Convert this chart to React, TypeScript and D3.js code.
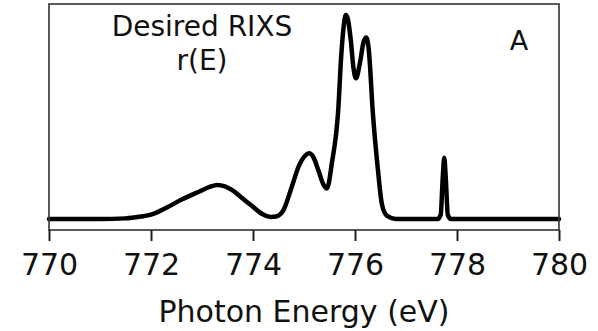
import React, { useRef, useEffect } from 'react';
import * as d3 from 'd3';

// photon energy (eV) and normalised r(E)
const energy = [
  770, 771, 771.5, 771.8, 772.0, 772.3, 772.6, 772.95, 773.15, 773.3, 773.45, 773.6, 773.8,
  773.95, 774.2, 774.35, 774.45, 774.6, 774.75, 774.9, 775.02, 775.1, 775.18, 775.28, 775.38,
  775.45, 775.55, 775.67, 775.73, 775.78, 775.82, 775.86, 775.92, 775.97, 776.02, 776.1,
  776.17, 776.22, 776.27, 776.35, 776.45, 776.53, 776.63, 776.8,
  777.62, 777.68, 777.72, 777.75, 777.78, 777.82, 777.88, 778.5, 780,
];
const intensity = [
  0, 0, 0.003, 0.012, 0.021, 0.055, 0.095, 0.135, 0.157, 0.167, 0.16, 0.14, 0.1,
  0.07, 0.022, 0.01, 0.012, 0.045, 0.15, 0.26, 0.31, 0.322, 0.305, 0.24, 0.17,
  0.15, 0.28, 0.53, 0.8, 0.95, 1.0, 0.98, 0.87, 0.74, 0.69, 0.77,
  0.87, 0.89, 0.83, 0.52, 0.24, 0.07, 0.015, 0,
  0, 0.02, 0.2, 0.3, 0.2, 0.02, 0, 0, 0,
];
const xTicks = [770, 772, 774, 776, 778, 780];
const xLabel = 'Photon Energy (eV)';
const titleLines = ['Desired RIXS', 'r(E)'];
const panelTag = 'A';

const W = 598;
const H = 331;
const margin = { top: 4, right: 39, bottom: 101, left: 49 };
const font = '"DejaVu Sans", sans-serif';

export default function App() {
  const svgRef = useRef<SVGSVGElement | null>(null);

  useEffect(() => {
    if (!svgRef.current) return;
    const svg = d3.select(svgRef.current);
    svg.selectAll('*').remove();

    const x = d3.scaleLinear().domain([770, 780]).range([margin.left, W - margin.right]);
    const y = d3.scaleLinear().domain([-0.054, 1.054]).range([H - margin.bottom, margin.top]);

    const pts = energy.map((e, i) => [e, intensity[i]] as [number, number]);

    const line = d3
      .line<[number, number]>()
      .x(d => x(d[0]))
      .y(d => y(d[1]))
      .curve(d3.curveMonotoneX);

    svg
      .append('path')
      .datum(pts)
      .attr('d', line)
      .attr('fill', 'none')
      .attr('stroke', '#000')
      .attr('stroke-width', 4.5)
      .attr('stroke-linejoin', 'round')
      .attr('stroke-linecap', 'round');

    // frame
    svg
      .append('rect')
      .attr('x', margin.left)
      .attr('y', margin.top)
      .attr('width', W - margin.left - margin.right)
      .attr('height', H - margin.top - margin.bottom)
      .attr('fill', 'none')
      .attr('stroke', '#333')
      .attr('stroke-width', 1.6);

    // x axis
    const axis = svg
      .append('g')
      .attr('transform', `translate(0,${H - margin.bottom})`)
      .call(d3.axisBottom(x).tickValues(xTicks).tickSize(11).tickPadding(13).tickFormat(d3.format('d')));
    axis.select('.domain').remove();
    axis.selectAll('line').attr('stroke', '#222').attr('stroke-width', 2);
    axis.selectAll('text').attr('font-family', font).attr('font-size', 30).attr('fill', '#111');

    svg
      .append('text')
      .attr('x', x(775))
      .attr('y', 322)
      .attr('text-anchor', 'middle')
      .attr('font-family', font)
      .attr('font-size', 30)
      .attr('fill', '#111')
      .text(xLabel);

    titleLines.forEach((t, i) => {
      svg
        .append('text')
        .attr('x', 202)
        .attr('y', 36 + i * 34)
        .attr('text-anchor', 'middle')
        .attr('font-family', font)
        .attr('font-size', 28)
        .attr('fill', '#111')
        .text(t);
    });

    svg
      .append('text')
      .attr('x', 519)
      .attr('y', 50)
      .attr('text-anchor', 'middle')
      .attr('font-family', font)
      .attr('font-size', 27)
      .attr('fill', '#111')
      .text(panelTag);
  }, []);

  return (
    <svg
      ref={svgRef}
      width={W}
      height={H}
      style={{ position: 'absolute', left: 0, top: 0, background: '#fff' }}
    />
  );
}
